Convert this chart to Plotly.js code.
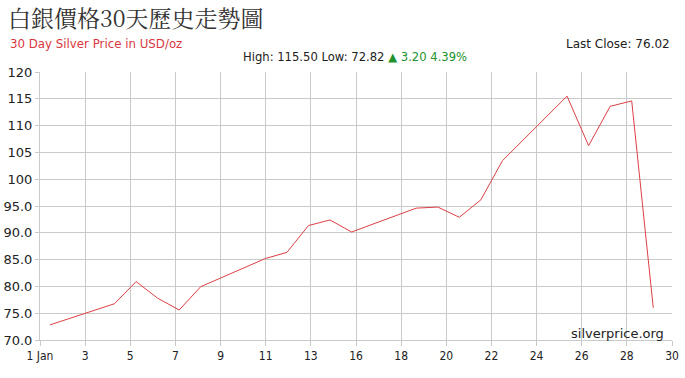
<!DOCTYPE html>
<html>
<head>
<meta charset="utf-8">
<script src="https://cdn.plot.ly/plotly-3.0.1.min.js"></script>
<style>html,body{margin:0;padding:0;background:#fff;}#chart{width:685px;height:378px;}</style>
</head>
<body>
<div id="chart"></div>
<script>
// Trading days in January and closing prices (USD/oz)
const days = [2, 5, 6, 7, 8, 9, 12, 13, 14, 15, 16, 19, 20, 21, 22, 23, 26, 27, 28, 29, 30];
const prices = [72.82, 76.77, 80.90, 77.80, 75.60, 79.95, 85.20, 86.35, 91.35, 92.40, 90.15,
                94.60, 94.80, 92.90, 96.15, 103.45, 115.50, 106.25, 113.60, 114.60, 76.02];
const xTickLabels = ["1 Jan", "3", "5", "7", "9", "11", "13", "16", "18", "20", "22", "24", "26", "28", "30"];
const yTickValues = [70, 75, 80, 85, 90, 95, 100, 105, 110, 115, 120];
const yTickLabels = ["70.0", "75.0", "80.0", "85.0", "90.0", "95.0", "100", "105", "110", "115", "120"];

const xRange = [1.54, 30.87];
const xTickVals = xTickLabels.map((_, i) => xRange[0] + (xRange[1] - xRange[0]) * i / (xTickLabels.length - 1));

const trace = {
  x: days, y: prices, type: 'scatter', mode: 'lines',
  line: {color: '#dc3f45', width: 1},
  hoverinfo: 'x+y'
};

const grid = '#cacaca';
const layout = {
  width: 685, height: 378,
  margin: {l: 40, r: 13, t: 72, b: 38},
  paper_bgcolor: '#fff', plot_bgcolor: '#fff',
  showlegend: false,
  title: {
    text: '白銀價格30天歷史走勢圖',
    font: {family: '"Noto Serif CJK TC", "Noto Sans CJK TC", serif', size: 23, color: '#333'},
    x: 8 / 685, xref: 'container', xanchor: 'left',
    y: 1 - 19 / 378, yref: 'container', yanchor: 'middle'
  },
  xaxis: {
    range: xRange, tickmode: 'array', tickvals: xTickVals, ticktext: xTickLabels,
    showgrid: true, gridcolor: grid, gridwidth: 1, zeroline: false,
    showline: true, linecolor: grid, linewidth: 1, mirror: false,
    ticks: 'outside', ticklen: 5, tickcolor: grid,
    tickfont: {family: '"DejaVu Sans Condensed", "DejaVu Sans", sans-serif', size: 12, color: '#222'},
    fixedrange: true
  },
  yaxis: {
    range: [70, 120], tickmode: 'array', tickvals: yTickValues, ticktext: yTickLabels,
    showgrid: true, gridcolor: grid, gridwidth: 1, zeroline: false,
    showline: true, linecolor: grid, linewidth: 1,
    ticks: 'outside', ticklen: 4, tickcolor: grid,
    tickfont: {family: '"DejaVu Sans", sans-serif', size: 13, color: '#222'},
    fixedrange: true
  },
  annotations: [
    {text: '30 Day Silver Price in USD/oz', xref: 'paper', yref: 'paper',
     x: (8 - 40) / 632, y: (340 - 44) / 268, xanchor: 'left', yanchor: 'middle', showarrow: false,
     font: {family: '"DejaVu Sans", sans-serif', size: 11.8, color: '#d9363e'}},
    {text: 'Last Close: 76.02', xref: 'paper', yref: 'paper',
     x: (672 - 40) / 632, y: (340 - 44) / 268, xanchor: 'right', yanchor: 'middle', showarrow: false,
     font: {family: '"DejaVu Sans", sans-serif', size: 12, color: '#222'}},
    {text: 'High: 115.50 Low: 72.82 <span style="color:#22922b">▲ 3.20 4.39%</span>', xref: 'paper', yref: 'paper',
     x: (355 - 40) / 632, y: (340 - 57) / 268, xanchor: 'center', yanchor: 'middle', showarrow: false,
     font: {family: '"DejaVu Sans", sans-serif', size: 11.6, color: '#222'}},
    {text: 'silverprice.org', xref: 'paper', yref: 'paper',
     x: (666 - 40) / 632, y: (340 - 333) / 268, xanchor: 'right', yanchor: 'middle', showarrow: false,
     font: {family: '"DejaVu Sans", sans-serif', size: 13, color: '#222'}}
  ]
};

Plotly.newPlot('chart', [trace], layout, {displayModeBar: false, staticPlot: true});
</script>
</body>
</html>
